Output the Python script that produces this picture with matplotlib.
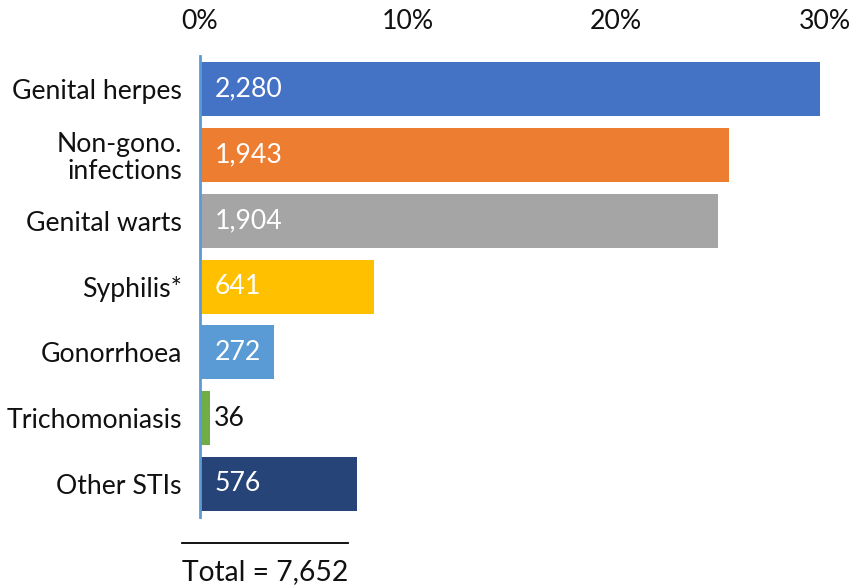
import matplotlib.pyplot as plt
from matplotlib.ticker import FuncFormatter

plt.rcParams['font.family'] = ['Lato', 'DejaVu Sans']

# STI diagnoses by type
categories = ["Genital herpes", "Non-gono.\ninfections", "Genital warts",
              "Syphilis*", "Gonorrhoea", "Trichomoniasis", "Other STIs"]
counts = [2280, 1943, 1904, 641, 272, 36, 576]
total = 7652
colors = ["#4472C4", "#ED7D31", "#A5A5A5", "#FFC000", "#5B9BD5", "#70AD47", "#264478"]
tick_values = [0, 0.10, 0.20, 0.30]

shares = [c / total for c in counts]
fs = 19.2

fig = plt.figure(figsize=(8.52, 5.86), dpi=100)
ax = fig.add_axes([0.2347, 0.118, 0.733, 0.786])

ypos = list(range(len(categories)))
ax.barh(ypos, shares, height=0.82, color=colors, zorder=2)

ax.set_xlim(0, 0.30)
ax.set_ylim(len(categories) - 0.5, -0.5)

ax.xaxis.tick_top()
ax.set_xticks(tick_values)
ax.xaxis.set_major_formatter(FuncFormatter(lambda v, _: f"{v * 100:.0f}%"))
ax.tick_params(axis="x", length=0, pad=16, labelsize=fs, labelcolor="#111111")
ax.set_yticks(ypos)
ax.set_yticklabels(categories, fontsize=fs, color="#111111", linespacing=1.1)
ax.tick_params(axis="y", length=0, pad=13)

for side in ["top", "right", "bottom"]:
    ax.spines[side].set_visible(False)
ax.spines["left"].set_color("#5B9BD5")
ax.spines["left"].set_linewidth(2)
ax.spines["left"].set_zorder(3)

# count labels: white inside the bar, dark beside very short bars
for y, s, c in zip(ypos, shares, counts):
    if s > 0.02:
        ax.text(0.0072, y, f"{c:,}", va="center", ha="left",
                color="white", fontsize=fs)
    else:
        ax.text(s + 0.002, y, f"{c:,}", va="center", ha="left",
                color="#111111", fontsize=fs)

# total underneath
fig.add_artist(plt.Line2D([182 / 852, 348 / 852], [1 - 543 / 586, 1 - 543 / 586],
                          color="black", linewidth=1.3))
fig.text(265 / 852, 1 - 572 / 586, f"Total = {total:,}", ha="center", va="center",
         fontsize=20.3, color="#111111")

fig.savefig("out.png", dpi=100)
